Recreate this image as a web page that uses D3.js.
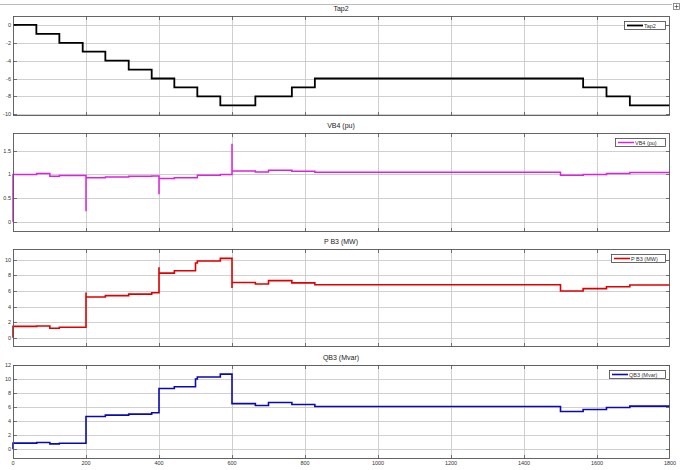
<!DOCTYPE html>
<html><head><meta charset="utf-8">
<script src="https://cdn.jsdelivr.net/npm/d3@7"></script>
<style>body{margin:0;background:#fff}svg{display:block;font-family:"Liberation Sans",Arial,sans-serif}</style>
</head><body><svg id="c" width="684" height="470"></svg>
<script>
const xTicks = [0,200,400,600,800,1000,1200,1400,1600,1800];

const tapTimes  = [0,64,127,191,253,317,380,442,505,568,664,764,827,1562,1626,1690,1800];
const tapValues = [0,-1,-2,-3,-4,-5,-6,-7,-8,-9,-8,-7,-6,-7,-8,-9,-9];

const vbTimes  = [0,0,65,101,127,200,200,253,317,380,400,400,442,505,568,600,600,664,700,764,827,1500,1562,1626,1690,1800];
const vbValues = [0,1.0,1.02,0.96,0.98,0.22,0.93,0.945,0.96,0.97,0.58,0.915,0.93,0.985,1.0,1.65,1.075,1.055,1.09,1.07,1.05,0.985,1.0,1.02,1.04,1.04];

const pTimes  = [0,0,65,101,127,200,200,253,317,380,400,400,442,500,505,568,600,600,664,700,764,827,1500,1562,1626,1690,1800];
const pValues = [0,1.45,1.5,1.22,1.33,5.8,5.23,5.4,5.6,5.78,9.05,8.3,8.6,9.6,9.85,10.2,6.4,7.1,6.9,7.33,7.05,6.8,6.0,6.3,6.55,6.77,6.77];

const qTimes  = [0,0,65,101,127,200,253,317,380,400,442,500,505,568,600,664,700,764,827,1500,1562,1626,1690,1800];
const qValues = [0,0.86,0.95,0.75,0.85,4.66,4.86,5.0,5.2,8.66,8.9,10.0,10.3,10.7,6.5,6.23,6.66,6.37,6.08,5.37,5.66,5.94,6.14,6.14];

const panels = [
  {title:"Tap2", legend:"Tap2", times:tapTimes, values:tapValues, domain:[-10.2,1], ticks:[0,-2,-4,-6,-8,-10], top:16, bottom:116, color:"#000000", width:1.8, legW:41},
  {title:"VB4 (pu)", legend:"VB4 (pu)", times:vbTimes, values:vbValues, domain:[-0.22,1.88], ticks:[0,0.5,1,1.5], top:133, bottom:232, color:"#e020e0", width:1.5, legW:50},
  {title:"P B3 (MW)", legend:"P B3 (MW)", times:pTimes, values:pValues, domain:[-1.2,11.4], ticks:[0,2,4,6,8,10], top:249, bottom:347, color:"#e00000", width:1.6, legW:54},
  {title:"QB3 (Mvar)", legend:"QB3 (Mvar)", times:qTimes, values:qValues, domain:[-1.4,12], ticks:[0,2,4,6,8,10,12], top:365, bottom:459, color:"#0a0ab4", width:1.6, legW:56}
];

const svg = d3.select("#c");
const x = d3.scaleLinear().domain([0,1800]).range([13,670]);

// top separator and icon
svg.append("line").attr("x1",0).attr("x2",672).attr("y1",4.5).attr("y2",4.5).attr("stroke","#bbb");
svg.append("rect").attr("x",673.5).attr("y",3.5).attr("width",6).attr("height",6).attr("fill","#fff").attr("stroke","#777").attr("stroke-width",0.8);
svg.append("path").attr("d","M674.5,6.5h4M676.5,4.5v4").attr("stroke","#555").attr("stroke-width",0.8);

panels.forEach((p,i)=>{
  const y = d3.scaleLinear().domain(p.domain).range([p.bottom,p.top]);
  const g = svg.append("g");
  // title
  g.append("text").attr("x",341).attr("y",p.top-5).attr("text-anchor","middle")
    .attr("font-size",7).attr("fill","#222").text(p.title);
  // grid
  g.selectAll(".gx").data(xTicks.slice(1,-1)).join("line")
    .attr("x1",d=>Math.round(x(d))+0.5).attr("x2",d=>Math.round(x(d))+0.5)
    .attr("y1",p.top).attr("y2",p.bottom).attr("stroke","#c4c4c4").attr("stroke-width",0.8);
  g.selectAll(".gy").data(p.ticks).join("line")
    .attr("x1",x(0)).attr("x2",x(1800))
    .attr("y1",d=>Math.round(y(d))+0.5).attr("y2",d=>Math.round(y(d))+0.5)
    .attr("stroke","#c4c4c4").attr("stroke-width",0.8);
  // tick marks inside
  xTicks.slice(1,-1).forEach(d=>{
    const xx=Math.round(x(d))+0.5;
    g.append("line").attr("x1",xx).attr("x2",xx).attr("y1",p.top).attr("y2",p.top+4).attr("stroke","#555").attr("stroke-width",0.8);
    g.append("line").attr("x1",xx).attr("x2",xx).attr("y1",p.bottom-4).attr("y2",p.bottom).attr("stroke","#555").attr("stroke-width",0.8);
  });
  p.ticks.forEach(d=>{
    const yy=Math.round(y(d))+0.5;
    g.append("line").attr("x1",x(0)).attr("x2",x(0)+4).attr("y1",yy).attr("y2",yy).attr("stroke","#555").attr("stroke-width",0.8);
    g.append("line").attr("x1",x(1800)-4).attr("x2",x(1800)).attr("y1",yy).attr("y2",yy).attr("stroke","#555").attr("stroke-width",0.8);
  });
  // y tick labels
  g.selectAll(".yl").data(p.ticks).join("text")
    .attr("x",11).attr("y",d=>y(d)+2).attr("text-anchor","end")
    .attr("font-size",5.5).attr("fill","#333").text(d=>d);
  // line
  const pts = p.times.map((t,k)=>[t,p.values[k]]);
  const line = d3.line().x(d=>x(d[0])).y(d=>y(d[1])).curve(d3.curveStepAfter);
  g.append("path").datum(pts).attr("d",line).attr("fill","none")
    .attr("stroke",p.color).attr("stroke-width",p.width);
  // box
  g.append("rect").attr("x",x(0)+0.5).attr("y",p.top+0.5).attr("width",x(1800)-x(0)-1).attr("height",p.bottom-p.top-1)
    .attr("fill","none").attr("stroke","#555").attr("stroke-width",0.9);
  // legend
  const lx = 665 - p.legW, ly = p.top + 5;
  g.append("rect").attr("x",lx+0.5).attr("y",ly+0.5).attr("width",p.legW).attr("height",8)
    .attr("fill","#fff").attr("stroke","#444").attr("stroke-width",0.8);
  g.append("line").attr("x1",lx+3).attr("x2",lx+19).attr("y1",ly+4.5).attr("y2",ly+4.5)
    .attr("stroke",p.color).attr("stroke-width",p.width);
  g.append("text").attr("x",lx+20).attr("y",ly+6.6).attr("font-size",5.5).attr("fill","#333").text(p.legend);
  // x labels on bottom panel
  if(i===panels.length-1){
    g.selectAll(".xl").data(xTicks).join("text")
      .attr("x",d=>x(d)).attr("y",p.bottom+6).attr("text-anchor","middle")
      .attr("font-size",5.5).attr("fill","#333").text(d=>d);
  }
});
</script></body></html>
